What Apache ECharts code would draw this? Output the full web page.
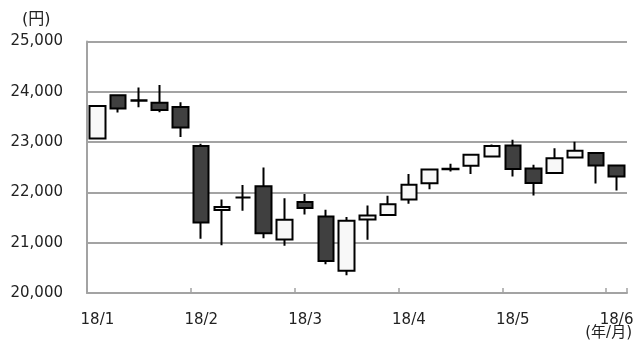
<!DOCTYPE html>
<html>
<head>
<meta charset="utf-8">
<script src="https://cdn.jsdelivr.net/npm/echarts@6/dist/echarts.min.js"></script>
<style>
  html, body { margin: 0; padding: 0; background: #fff; }
  #chart { width: 637px; height: 343px; }
</style>
</head>
<body>
<div id="chart"></div>
<script>
// weekly candles, 2018/1 - 2018/6
const weeks = [
  "W01", "W02", "W03", "W04", "W05", "W06", "W07", "W08", "W09", "W10",
  "W11", "W12", "W13", "W14", "W15", "W16", "W17", "W18", "W19", "W20",
  "W21", "W22", "W23", "W24", "W25", "W26"
];
const monthLabels = ["18/1", "18/2", "18/3", "18/4", "18/5", "18/6"];

const opens  = [23070, 23930, 23820, 23780, 23700, 22920, 21650, 21900, 22120, 21065, 21810, 21520, 20440, 21460, 21550, 21860, 22180, 22460, 22530, 22715, 22930, 22475, 22385, 22695, 22785, 22535];
const closes = [23720, 23670, 23830, 23640, 23290, 21400, 21710, 21900, 21190, 21455, 21690, 20635, 21435, 21540, 21765, 22150, 22455, 22470, 22750, 22920, 22465, 22185, 22680, 22830, 22535, 22315];
const lows   = [23050, 23590, 23695, 23595, 23100, 21080, 20950, 21635, 21090, 20940, 21560, 20570, 20355, 21060, 21545, 21775, 22065, 22415, 22365, 22700, 22315, 21940, 22370, 22690, 22175, 22040];
const highs  = [23740, 23950, 24085, 24135, 23790, 22965, 21860, 22145, 22495, 21885, 21970, 21655, 21510, 21740, 21935, 22365, 22470, 22570, 22760, 22950, 23045, 22550, 22880, 23005, 22800, 22545];

const yMin = 20000, yMax = 25000, yStep = 1000;

const font = "DejaVu Sans";
const gray = "#a3a3a3";
const textColor = "#222";

const chart = echarts.init(document.getElementById("chart"), null, { renderer: "canvas" });

const candles = weeks.map((_, i) => [opens[i], closes[i], lows[i], highs[i]]);

chart.setOption({
  animation: false,
  backgroundColor: "#fff",
  textStyle: { fontFamily: font },
  grid: { left: 87, right: 10, top: 41.5, bottom: 50, containLabel: false },
  xAxis: {
    type: "category",
    data: weeks,
    boundaryGap: true,
    axisLine: { show: true, lineStyle: { color: gray, width: 2 } },
    axisTick: { show: true, inside: true, length: 5, interval: 4, lineStyle: { color: gray, width: 1.5 } },
    axisLabel: {
      interval: 4,
      margin: 20,
      color: textColor,
      fontFamily: font,
      fontSize: 15,
      formatter: (v, i) => monthLabels[i / 5] || ""
    },
    splitLine: { show: false }
  },
  yAxis: {
    type: "value",
    min: yMin,
    max: yMax,
    interval: yStep,
    axisLine: { show: true, lineStyle: { color: gray, width: 2 } },
    axisTick: { show: false },
    axisLabel: {
      margin: 24,
      color: textColor,
      fontFamily: font,
      fontSize: 15,
      formatter: v => v.toLocaleString("en-US")
    },
    splitLine: { show: true, lineStyle: { color: gray, width: 2 } }
  },
  graphic: [
    {
      type: "text", left: 22, top: 12,
      style: { text: "(円)", fill: textColor, font: "16px 'DejaVu Sans', 'Noto Sans CJK JP'" }
    },
    {
      type: "text", right: 5, top: 326,
      style: { text: "(年/月)", fill: textColor, font: "15px 'DejaVu Sans', 'Noto Sans CJK JP'" }
    }
  ],
  series: [
    {
      type: "candlestick",
      data: candles,
      barWidth: 16,
      itemStyle: {
        color: "#f8f8f8",
        color0: "#404040",
        borderColor: "#000",
        borderColor0: "#000",
        borderWidth: 2
      }
    }
  ]
});
</script>
</body>
</html>
